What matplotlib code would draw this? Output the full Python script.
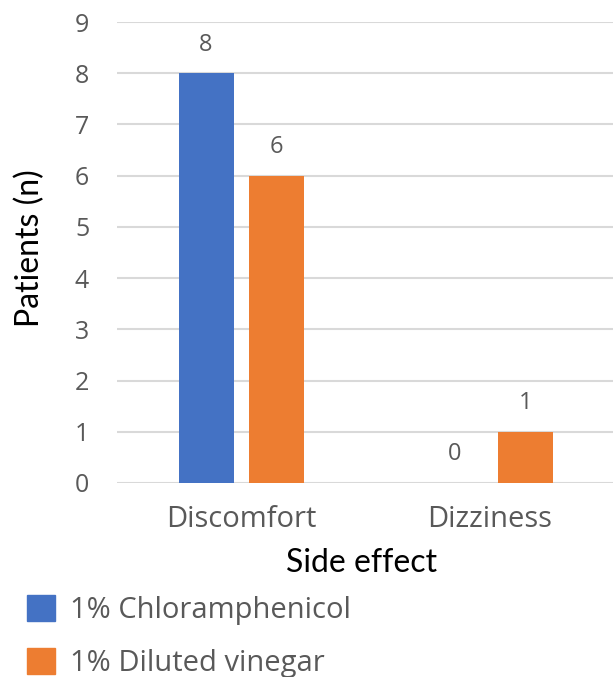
import numpy as np
import matplotlib.pyplot as plt
from matplotlib.patches import Patch

# data
categories = ['Discomfort', 'Dizziness']
series_names = ['1% Chloramphenicol', '1% Diluted vinegar']
chloramphenicol = [8, 0]
vinegar = [6, 1]
y_ticks = list(range(0, 10))

colors = ['#4472C4', '#ED7D31']
txt_gray = '#595959'

plt.rcParams['font.family'] = ['Open Sans', 'DejaVu Sans']

W, H = 613, 677
fig = plt.figure(figsize=(W / 100, H / 100), dpi=100)
ax = fig.add_axes([117 / W, 1 - 483 / H, 1 - 117 / W, (483 - 22) / H])

x = np.arange(len(categories))
w = 0.221
off = 0.1416
b1 = ax.bar(x - off, chloramphenicol, w, color=colors[0], zorder=3)
b2 = ax.bar(x + off, vinegar, w, color=colors[1], zorder=3)

# value labels above bars
for bars, vals in [(b1, chloramphenicol), (b2, vinegar)]:
    for b, v in zip(bars, vals):
        ax.annotate(str(v), (b.get_x() + b.get_width() / 2, v),
                    xytext=(0, 12), textcoords='offset points',
                    ha='center', va='bottom', fontsize=17, color=txt_gray)

ax.set_xlim(-0.5, 1.495)
ax.set_ylim(0, 9)
ax.set_yticks(y_ticks)
ax.set_xticks(x)
ax.set_xticklabels(categories, fontsize=21, color=txt_gray)
ax.tick_params(axis='y', labelsize=18, labelcolor=txt_gray, length=0, pad=20)
ax.tick_params(axis='x', length=0, pad=16)
ax.grid(axis='y', color='#D9D9D9', lw=1.5, zorder=0)
for s in ax.spines.values():
    s.set_visible(False)

ax.set_xlabel('Side effect', fontsize=23, family=['Lato', 'DejaVu Sans'])
ax.set_ylabel('Patients (n)', fontsize=23, family=['Lato', 'DejaVu Sans'])
ax.xaxis.set_label_coords((362 - 117) / 496, (483 - 548) / 461)
ax.yaxis.set_label_coords((45 - 117) / 496, (483 - 248) / 461)

handles = [Patch(color=c, label=n) for c, n in zip(colors, series_names)]
leg = fig.legend(handles=handles, loc='upper left', bbox_to_anchor=(27 / W, 1 - 595 / H),
                 frameon=False, fontsize=21, handlelength=0.97, handleheight=0.97,
                 labelspacing=0.8, handletextpad=0.5, borderaxespad=0, borderpad=0)
for t in leg.get_texts():
    t.set_color(txt_gray)

plt.savefig('out.png', dpi=100)
